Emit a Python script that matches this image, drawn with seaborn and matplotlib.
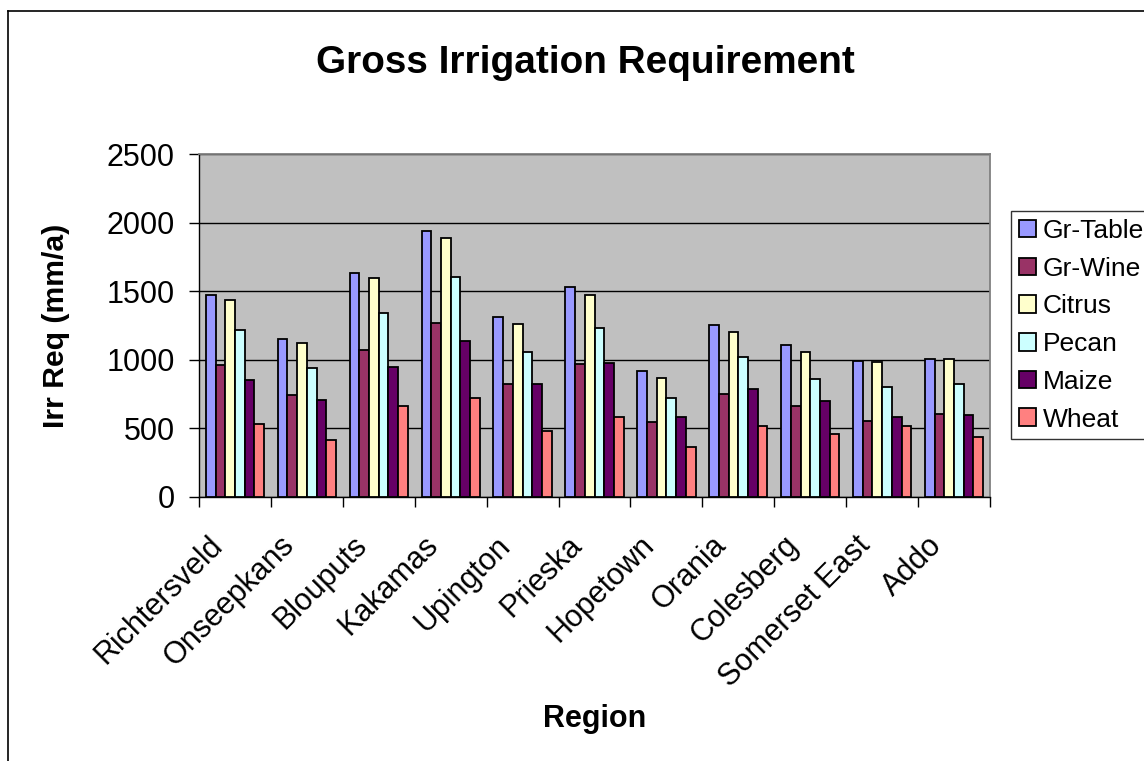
import numpy as np
import pandas as pd
import matplotlib
matplotlib.use("Agg")
import matplotlib.pyplot as plt
from matplotlib.lines import Line2D
from matplotlib.patches import Patch
from matplotlib.transforms import ScaledTranslation
import seaborn as sns

regions = ["Richtersveld", "Onseepkans", "Blouputs", "Kakamas", "Upington",
           "Prieska", "Hopetown", "Orania", "Colesberg", "Somerset East", "Addo"]
crops = ["Gr-Table", "Gr-Wine", "Citrus", "Pecan", "Maize", "Wheat"]

gr_table = [1470, 1155, 1630, 1940, 1315, 1530, 920, 1255, 1110, 990, 1005]
gr_wine = [965, 745, 1070, 1265, 825, 970, 550, 750, 660, 555, 605]
citrus = [1435, 1120, 1595, 1890, 1260, 1475, 865, 1200, 1055, 985, 1005]
pecan = [1215, 940, 1340, 1600, 1060, 1235, 720, 1020, 860, 800, 820]
maize = [850, 705, 945, 1135, 820, 980, 580, 790, 700, 580, 600]
wheat = [535, 415, 665, 720, 480, 585, 365, 515, 460, 515, 435]

colors = ["#9999FF", "#993366", "#FFFFCC", "#CCFFFF", "#660066", "#FF8080"]

series = [gr_table, gr_wine, citrus, pecan, maize, wheat]
df = pd.DataFrame({
    "Region": np.repeat(regions, len(crops)),
    "Crop": crops * len(regions),
    "Irr": [series[j][i] for i in range(len(regions)) for j in range(len(crops))],
})

plt.rcParams["font.family"] = ["Liberation Sans", "DejaVu Sans"]

W, H = 1144, 761
fig = plt.figure(figsize=(W / 100, H / 100), dpi=100)
ax = fig.add_axes([199 / W, 1 - 497 / H, (990 - 199) / W, (497 - 154) / H])
ax.set_facecolor("#C0C0C0")

sns.barplot(data=df, x="Region", y="Irr", hue="Crop", order=regions,
            hue_order=crops, palette=colors, width=0.81, gap=0,
            edgecolor="black", linewidth=1.3, saturation=1, ax=ax,
            legend=False, zorder=3)

ax.set_xlim(-0.5, len(regions) - 0.5)
ax.set_ylim(0, 2500)
ax.set_yticks(np.arange(0, 2501, 500))
ax.yaxis.grid(True, color="black", linewidth=1.0, zorder=1)
ax.set_axisbelow(True)

for s in ["top", "right"]:
    ax.spines[s].set_color("#808080")
    ax.spines[s].set_linewidth(1.3)
for s in ["left", "bottom"]:
    ax.spines[s].set_color("black")
    ax.spines[s].set_linewidth(1.0)

ax.tick_params(axis="y", direction="out", length=7.5, width=1, labelsize=22, pad=10)
ax.set_xticks(range(len(regions)))
ax.set_xticklabels(regions, rotation=45, ha="right", va="top",
                   rotation_mode="default", fontsize=22)
ax.tick_params(axis="x", which="major", length=0, pad=24)
ax.set_xticks(np.arange(-0.5, len(regions)), minor=True)
ax.tick_params(axis="x", which="minor", direction="out", length=7.5, width=1)

shift = ScaledTranslation(-6 / 100, 0, fig.dpi_scale_trans)
for lab in ax.get_xticklabels():
    lab.set_transform(lab.get_transform() + shift)

ax.set_xlabel("Region", fontsize=22, fontweight="bold")
ax.set_ylabel("Irr Req (mm/a)", fontsize=21.7, fontweight="bold")
ax.xaxis.set_label_coords(0.5, (497 - 704) / 343)
ax.yaxis.set_label_coords((70 - 199) / 791, 0.5)

fig.text(585.5 / W, 1 - 63 / H, "Gross Irrigation Requirement", ha="center",
         va="center", fontsize=27.9, fontweight="bold")

handles = [Patch(facecolor=c, edgecolor="black", linewidth=1.3) for c in colors]
leg = fig.legend(handles, crops, loc="upper left",
                 bbox_to_anchor=(1011 / W, 1 - 211 / H), fontsize=19,
                 frameon=True, fancybox=False, edgecolor="black",
                 handlelength=0.65, handleheight=0.65, handletextpad=0.25,
                 labelspacing=0.52, borderpad=0.3, borderaxespad=0)
leg.get_frame().set_linewidth(1.0)

# outer chart frame
fig.add_artist(Line2D([8 / W, 8 / W], [0, 1 - 11 / H], color="black",
                      linewidth=1.2, transform=fig.transFigure))
fig.add_artist(Line2D([8 / W, 1], [1 - 11 / H, 1 - 11 / H], color="black",
                      linewidth=1.2, transform=fig.transFigure))

fig.savefig("out.png", dpi=100)
